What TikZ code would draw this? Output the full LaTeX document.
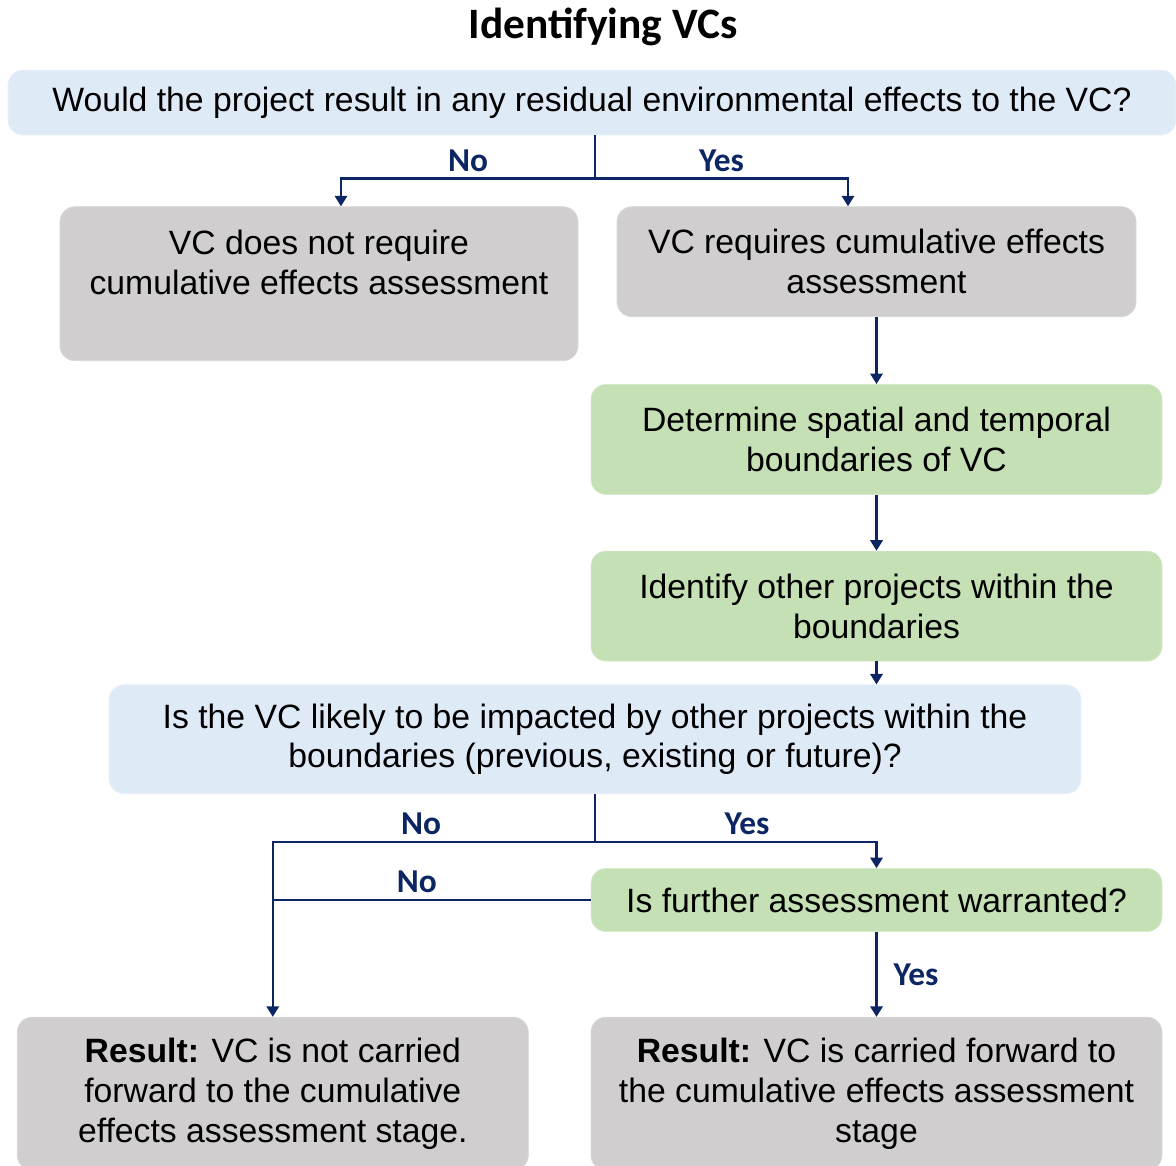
\documentclass[tikz,border=0pt]{standalone}
\usepackage{fontspec}
\setmainfont{Liberation Sans}
\newfontfamily\calibrifont{Carlito}
\usepackage{tikz}
\usetikzlibrary{arrows.meta, positioning, calc}
\definecolor{vcblue}{RGB}{222, 235, 247}
\definecolor{vcgray}{RGB}{208, 206, 206}
\definecolor{vcgreen}{RGB}{197, 224, 180}
\definecolor{vcnavy}{RGB}{12, 38, 100}

\begin{document}
\begin{tikzpicture}[
		% global settings
		font=\fontsize{19.2}{22.7}\selectfont,
		% styles
		question/.style={rectangle, fill=vcblue, draw=vcblue!60!white, rounded corners=0.3cm, align=center, inner sep=0pt},
		grey/.style={rectangle, fill=vcgray, draw=vcgray!80!white, rounded corners=0.3cm, align=center, inner sep=0pt},
		task/.style={rectangle, fill=vcgreen, draw=vcgreen!70!white, rounded corners=0.3cm, align=center, inner sep=0pt},
		arrow/.style={-{Triangle[width=7pt,length=6pt]}, vcnavy, line width=1.4pt},
		line/.style={vcnavy, line width=1.4pt},
		answer/.style={text=vcnavy, font=\calibrifont\bfseries\fontsize{19}{22}\selectfont}
		]
		\useasboundingbox (0,0) rectangle (23.52,-23.32);
		
		% ==========================================
		% Title + first question
		% ==========================================
		\node[font=\calibrifont\bfseries\fontsize{24.7}{28}\selectfont] (title) at (12.06,-0.54) {Identifying VCs};
		
		\node[question, minimum width=23.36cm, minimum height=1.3cm] (q1) at (11.84,-2.05)
		{Would the project result in any residual environmental effects to the VC?};
		
		% No / Yes branch
		\node[grey, below=1.42cm of q1, xshift=-5.46cm, minimum width=10.36cm, minimum height=3.08cm] (noreq) {};
		\node[align=center] (noreqtext) at ([yshift=0.42cm]noreq.center) {VC does not require\\cumulative effects assessment};
		
		\node[grey, below=1.42cm of q1, xshift=5.69cm, minimum width=10.38cm, minimum height=2.2cm] (req)
		{VC requires cumulative effects\\assessment};
		
		% ==========================================
		% Boundaries (green steps)
		% ==========================================
		\node[task, below=1.34cm of req, minimum width=11.42cm, minimum height=2.2cm] (bounds)
		{Determine spatial and temporal\\boundaries of VC};
		\node[task, below=1.12cm of bounds, minimum width=11.42cm, minimum height=2.2cm] (others)
		{Identify other projects within the\\boundaries};
		
		% ==========================================
		% Second question
		% ==========================================
		\node[question, below=0.46cm of others, xshift=-5.63cm, minimum width=19.44cm, minimum height=2.18cm] (q2)
		{Is the VC likely to be impacted by other projects within the\\boundaries (previous, existing or future)?};
		
		\node[task, below=1.48cm of q2, xshift=5.63cm, minimum width=11.42cm, minimum height=1.26cm] (further)
		{Is further assessment warranted?};
		
		% Results
		\node[grey, below=1.7cm of further, minimum width=11.42cm, minimum height=3.06cm] (carried)
		{\textbf{Result:} VC is carried forward to\\the cumulative effects assessment\\stage};
		\node[grey, left=1.24cm of carried, minimum width=10.22cm, minimum height=3.06cm] (notcarried)
		{\textbf{Result:} VC is not carried\\forward to the cumulative\\effects assessment stage.};
		
		% ==========================================
		% Connectors
		% ==========================================
		\draw[line] (q1.south -| q2.north) -- ++(0,-0.86) coordinate (fork1);
		\draw[arrow] (fork1) -| node[answer, pos=0.25, above] {No} ([xshift=0.44cm]noreq.north);
		\draw[arrow] (fork1) -| node[answer, pos=0.25, above] {Yes} ([xshift=-0.57cm]req.north);
		
		\draw[arrow] (req) -- (bounds);
		\draw[arrow] (bounds) -- (others);
		\draw[arrow] (others.south) -- (others.south |- q2.north);
		
		\draw[line] (q2.south) -- ++(0,-0.96) coordinate (fork2);
		\draw[arrow] (fork2) -| node[answer, pos=0.27, above] {No} (notcarried.north);
		\draw[arrow] (fork2) -| node[answer, pos=0.27, above] {Yes} (further.north);
		\draw[line] (further.west) -- node[answer, above, xshift=-0.3cm] {No} (further.west -| notcarried.north);
		\draw[arrow] (further) -- node[answer, right, xshift=0.2cm] {Yes} (carried);
		
	\end{tikzpicture}
\end{document}
